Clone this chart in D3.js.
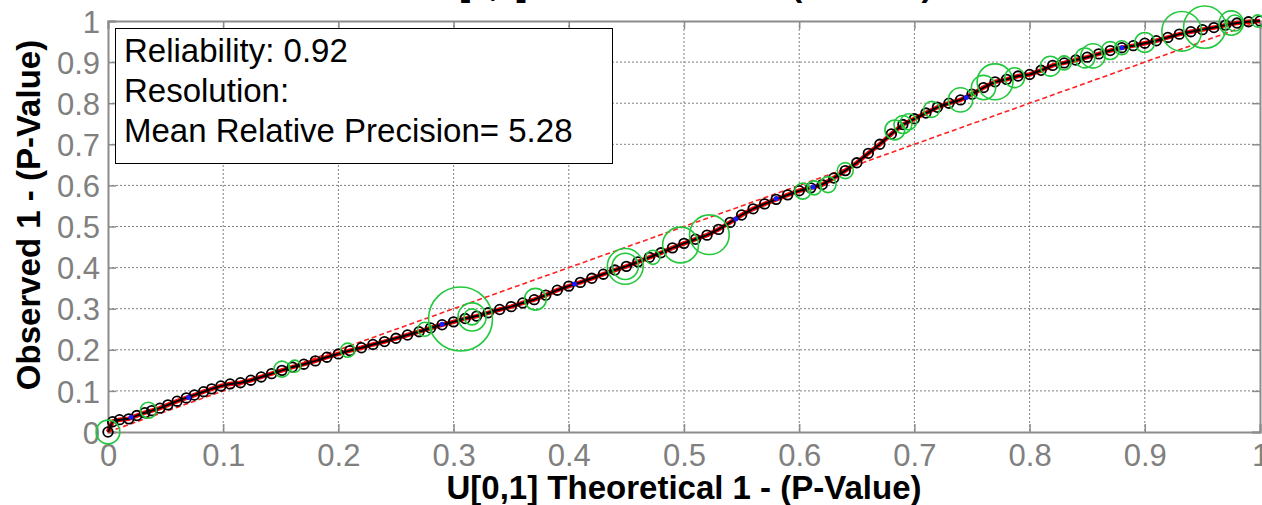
<!DOCTYPE html>
<html>
<head>
<meta charset="utf-8">
<script src="https://cdn.jsdelivr.net/npm/d3@7"></script>
<style>
  body { margin: 0; background: #fff; }
  svg { display: block; font-family: "Liberation Sans", Arial, sans-serif; }
</style>
</head>
<body>
<div id="chart"></div>
<script>
// observed curve (theoretical x, observed y)
var obsX = [0.000,0.004,0.010,0.018,0.025,0.032,0.038,0.045,0.052,0.060,0.068,0.075,0.083,0.090,0.098,0.106,0.115,0.124,0.133,0.142,0.151,0.160,0.170,0.180,0.190,0.200,0.210,0.220,0.230,0.240,0.250,0.260,0.270,0.280,0.290,0.300,0.310,0.320,0.330,0.340,0.350,0.360,0.370,0.380,0.390,0.400,0.410,0.420,0.430,0.440,0.450,0.460,0.470,0.480,0.490,0.500,0.510,0.520,0.530,0.540,0.550,0.560,0.570,0.580,0.590,0.600,0.610,0.620,0.630,0.640,0.650,0.660,0.670,0.680,0.690,0.700,0.710,0.720,0.730,0.740,0.750,0.760,0.770,0.780,0.790,0.800,0.810,0.820,0.830,0.840,0.850,0.860,0.870,0.880,0.890,0.900,0.910,0.920,0.930,0.940,0.950,0.960,0.970,0.980,0.990,1.000];
var obsY = [0.000,0.025,0.030,0.032,0.040,0.047,0.052,0.058,0.066,0.075,0.083,0.090,0.098,0.105,0.112,0.117,0.120,0.126,0.134,0.142,0.150,0.158,0.165,0.173,0.182,0.190,0.198,0.205,0.213,0.220,0.228,0.236,0.244,0.253,0.261,0.268,0.276,0.282,0.290,0.298,0.305,0.314,0.322,0.333,0.345,0.355,0.364,0.374,0.384,0.394,0.403,0.414,0.425,0.436,0.448,0.459,0.469,0.479,0.493,0.510,0.528,0.543,0.555,0.566,0.577,0.587,0.594,0.602,0.618,0.636,0.655,0.678,0.700,0.725,0.748,0.762,0.776,0.790,0.800,0.808,0.822,0.838,0.852,0.858,0.866,0.870,0.880,0.892,0.898,0.905,0.912,0.920,0.928,0.935,0.940,0.946,0.952,0.960,0.968,0.974,0.979,0.984,0.990,0.995,0.998,1.000];

// green circles: position and relative precision
var greenX = [0.000,0.035,0.151,0.162,0.208,0.275,0.306,0.316,0.316,0.371,0.449,0.449,0.473,0.497,0.522,0.603,0.613,0.625,0.640,0.683,0.690,0.695,0.715,0.740,0.760,0.770,0.787,0.818,0.830,0.848,0.855,0.870,0.880,0.900,0.932,0.952,0.975,0.978,0.998];
var greenY = [0.000,0.053,0.153,0.160,0.199,0.250,0.275,0.280,0.280,0.323,0.403,0.403,0.425,0.455,0.480,0.586,0.594,0.602,0.636,0.735,0.748,0.755,0.785,0.808,0.838,0.852,0.862,0.890,0.898,0.910,0.915,0.928,0.935,0.948,0.975,0.985,0.995,0.995,1.000];
var greenP = [0.37,0.25,0.25,0.19,0.22,0.22,1.00,0.44,0.25,0.34,0.56,0.41,0.22,0.56,0.62,0.25,0.22,0.25,0.25,0.31,0.28,0.25,0.25,0.38,0.38,0.56,0.31,0.31,0.22,0.31,0.38,0.28,0.22,0.31,0.62,0.66,0.38,0.25,0.19];

// a few blue points
var blueX = [0.020,0.070,0.290,0.405,0.545,0.580,0.612,0.745,0.880];
var blueY = [0.036,0.084,0.262,0.360,0.518,0.568,0.596,0.814,0.935];

var xTicks = [0,0.1,0.2,0.3,0.4,0.5,0.6,0.7,0.8,0.9,1];
var yTicks = [0,0.1,0.2,0.3,0.4,0.5,0.6,0.7,0.8,0.9,1];
var infoLines = ["Reliability: 0.92", "Resolution:", "Mean Relative Precision= 5.28"];
var titleText = "U[0,1] vs Observed 1 - (P-Value)";
var xLabel = "U[0,1] Theoretical 1 - (P-Value)";
var yLabel = "Observed 1 - (P-Value)";

var W = 1262, H = 505;
var mLeft = 108, mRight = 1260, mTop = 21, mBottom = 432;

var svg = d3.select("#chart").append("svg").attr("width", W).attr("height", H);

var x = d3.scaleLinear().domain([0, 1]).range([mLeft, mRight]);
var y = d3.scaleLinear().domain([0, 1]).range([mBottom, mTop]);
var r = d3.scaleLinear().domain([0, 1]).range([0, 32]);

//GRID
svg.append("g").selectAll("line").data(xTicks.slice(1, -1)).enter().append("line")
  .attr("x1", d => x(d)).attr("x2", d => x(d)).attr("y1", mTop).attr("y2", mBottom)
  .attr("stroke", "#808080").attr("stroke-width", 1).attr("stroke-dasharray", "2,2");
svg.append("g").selectAll("line").data(yTicks.slice(1, -1)).enter().append("line")
  .attr("y1", d => y(d)).attr("y2", d => y(d)).attr("x1", mLeft).attr("x2", mRight)
  .attr("stroke", "#808080").attr("stroke-width", 1).attr("stroke-dasharray", "2,2");

//AXES (ticks inside)
var gx = svg.append("g").attr("transform", "translate(0," + mBottom + ")")
  .call(d3.axisBottom(x).tickValues(xTicks).tickSize(-8).tickPadding(12).tickFormat(d3.format("")));
var gy = svg.append("g").attr("transform", "translate(" + mLeft + ",0)")
  .call(d3.axisLeft(y).tickValues(yTicks).tickSize(-8).tickPadding(8).tickFormat(d3.format("")));
svg.append("g").attr("transform", "translate(0," + mTop + ")")
  .call(d3.axisTop(x).tickValues(xTicks).tickSize(-8).tickFormat(""));
svg.append("g").attr("transform", "translate(" + mRight + ",0)")
  .call(d3.axisRight(y).tickValues(yTicks).tickSize(-8).tickFormat(""));
svg.selectAll(".domain").attr("stroke", "#8c8c8c").attr("stroke-width", 2);
svg.selectAll(".tick line").attr("stroke", "#8c8c8c").attr("stroke-width", 1.5);
svg.selectAll(".tick text").attr("fill", "#808080").style("font-size", "31px")
  .style("font-family", "'Liberation Sans', Arial, sans-serif");
gy.selectAll(".tick text").attr("dy", "0.36em");

//DIAGONAL
svg.append("line")
  .attr("x1", x(0)).attr("y1", y(0)).attr("x2", x(1)).attr("y2", y(1))
  .attr("stroke", "#ff2020").attr("stroke-width", 1.6).attr("stroke-dasharray", "5,3");

//CURVE
var pts = obsX.map((v, i) => [v, obsY[i]]);
var line = d3.line().x(d => x(d[0])).y(d => y(d[1]));
svg.append("path").datum(pts).attr("fill", "none").attr("stroke", "#ff0000")
  .attr("stroke-width", 4.5).attr("d", line);
svg.append("path").datum(pts).attr("fill", "none").attr("stroke", "#000")
  .attr("stroke-width", 2).attr("d", line);

svg.append("g").selectAll("circle").data(pts).enter().append("circle")
  .attr("cx", d => x(d[0])).attr("cy", d => y(d[1])).attr("r", 4.8)
  .attr("fill", "none").attr("stroke", "#000").attr("stroke-width", 1.8);

svg.append("g").selectAll("circle").data(blueX).enter().append("circle")
  .attr("cx", d => x(d)).attr("cy", (d, i) => y(blueY[i])).attr("r", 2.5)
  .attr("fill", "#1a1aff");

svg.append("g").selectAll("circle").data(greenX).enter().append("circle")
  .attr("cx", d => x(d)).attr("cy", (d, i) => y(greenY[i])).attr("r", (d, i) => r(greenP[i]))
  .attr("fill", "none").attr("stroke", "#22c83c").attr("stroke-width", 1.6);

//INFO BOX
svg.append("rect").attr("x", 115.5).attr("y", 28.5).attr("width", 497).attr("height", 135)
  .attr("fill", "#fff").attr("stroke", "#000").attr("stroke-width", 1);
svg.append("g").selectAll("text").data(infoLines).enter().append("text")
  .attr("x", 124).attr("y", (d, i) => 62 + i * 40)
  .style("font-size", "33px").attr("fill", "#000").text(d => d);

//TITLES
svg.append("text").attr("x", 684).attr("y", -4).attr("text-anchor", "middle")
  .style("font-size", "33px").style("font-weight", "bold").text(titleText);
svg.append("text").attr("x", 684).attr("y", 499).attr("text-anchor", "middle")
  .style("font-size", "33px").style("font-weight", "bold").text(xLabel);
svg.append("text").attr("transform", "translate(40,215) rotate(-90)").attr("text-anchor", "middle")
  .style("font-size", "33px").style("font-weight", "bold").text(yLabel);
</script>
</body>
</html>
